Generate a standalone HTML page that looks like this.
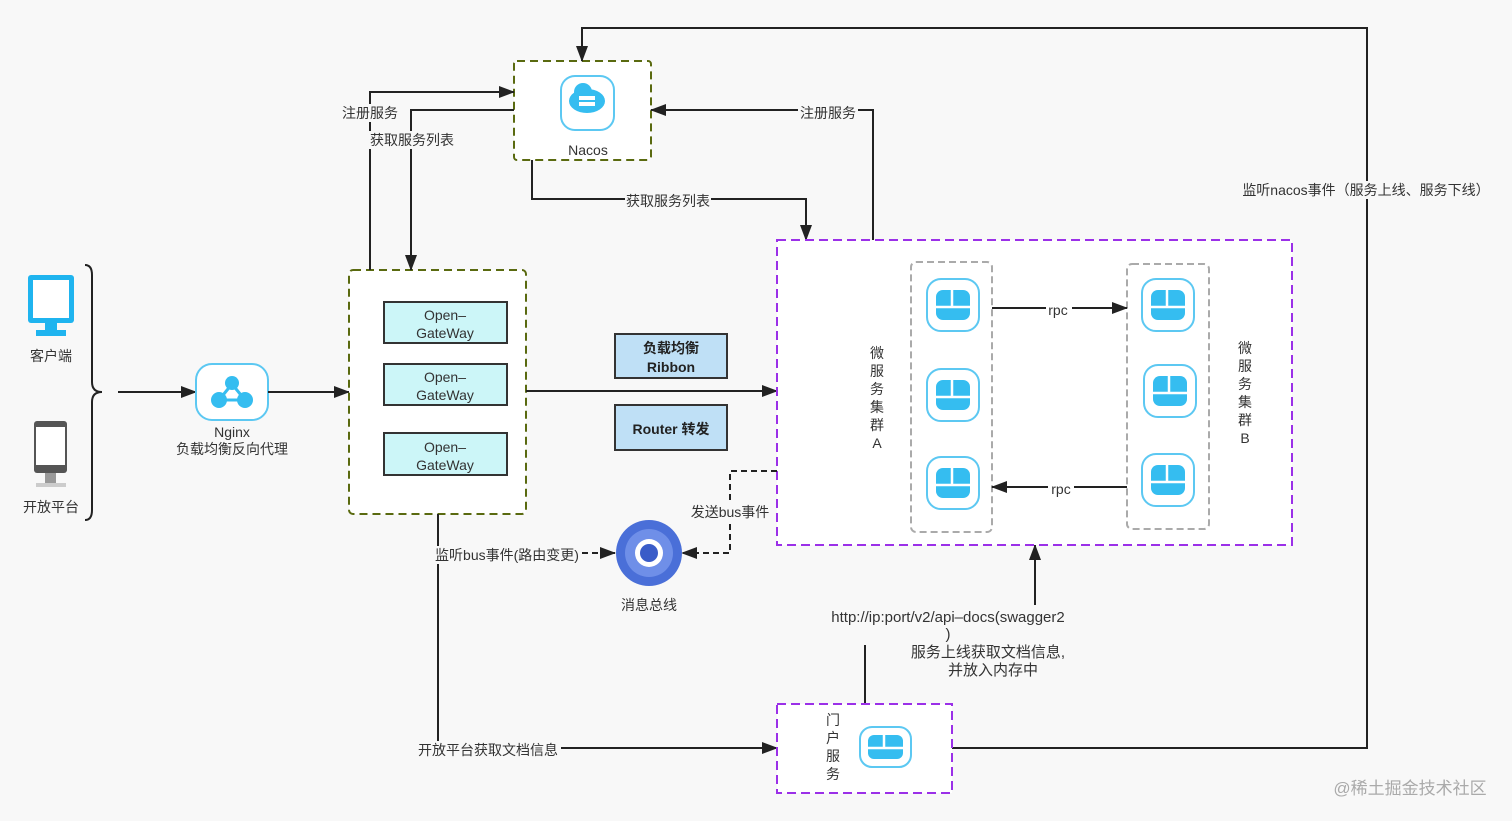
<!DOCTYPE html>
<html><head><meta charset="utf-8"><style>
html,body{margin:0;padding:0;background:#f8f8f8;}
svg{display:block;font-family:"Liberation Sans","Noto Sans CJK SC",sans-serif;}
</style></head><body>
<svg width="1512" height="821" viewBox="0 0 1512 821" xmlns="http://www.w3.org/2000/svg">
<defs>
<marker id="b" markerWidth="16" markerHeight="12" refX="15" refY="6" orient="auto" markerUnits="userSpaceOnUse"><path d="M0,0 L16,6 L0,12 Z" fill="#222"/></marker>
<g id="svc"><rect x="-26" y="-26" width="52" height="52" rx="14" fill="#fff" stroke="#5cc8f2" stroke-width="2"/><rect x="-17" y="-15" width="34" height="30" rx="7" fill="#35bdf0"/><line x1="-17" y1="2" x2="17" y2="2" stroke="#fff" stroke-width="2.5"/><line x1="-1" y1="-15" x2="-1" y2="2" stroke="#fff" stroke-width="2.5"/></g>
</defs>
<rect width="1512" height="821" fill="#f8f8f8"/>

<rect x="28" y="275" width="46" height="48" rx="3" fill="#1fb4ef"/>
<rect x="33" y="280" width="36" height="38" fill="#fff"/>
<rect x="45" y="323" width="12" height="7" fill="#1fb4ef"/>
<rect x="36" y="330" width="30" height="6" fill="#1fb4ef"/>
<text x="51" y="361" font-size="14" text-anchor="middle" fill="#333">客户端</text>
<rect x="34" y="421" width="33" height="52" rx="3" fill="#555"/>
<rect x="36" y="427" width="29" height="38" fill="#fff"/>
<rect x="45" y="473" width="11" height="10" fill="#999"/>
<rect x="36" y="483" width="30" height="4" fill="#ccc"/>
<text x="51" y="512" font-size="14" text-anchor="middle" fill="#333">开放平台</text>
<path d="M85,265 Q92,265 92,275 L92,382 Q92,392 102,392 Q92,392 92,402 L92,510 Q92,520 85,520" fill="none" stroke="#222" stroke-width="2"/>
<line x1="118" y1="392" x2="196" y2="392" stroke="#222" stroke-width="2" marker-end="url(#b)"/>

<rect x="196" y="364" width="72" height="56" rx="16" fill="#fff" stroke="#5cc8f2" stroke-width="2"/>
<line x1="232" y1="384" x2="219" y2="400" stroke="#35bdf0" stroke-width="3"/><line x1="232" y1="384" x2="245" y2="400" stroke="#35bdf0" stroke-width="3"/><line x1="219" y1="400" x2="245" y2="400" stroke="#35bdf0" stroke-width="3"/>
<circle cx="232" cy="383" r="7" fill="#35bdf0"/><circle cx="219" cy="400" r="8" fill="#35bdf0"/><circle cx="245" cy="400" r="8" fill="#35bdf0"/>
<text x="232" y="437" font-size="14" text-anchor="middle" fill="#333">Nginx</text>
<text x="232" y="454" font-size="14" text-anchor="middle" fill="#333">负载均衡反向代理</text>
<line x1="268" y1="392" x2="349" y2="392" stroke="#222" stroke-width="2" marker-end="url(#b)"/>

<rect x="349" y="270" width="177" height="244" rx="4" fill="#fff" stroke="#5a6a10" stroke-width="2" stroke-dasharray="8,5"/>
<g font-size="14" text-anchor="middle" fill="#333">
<rect x="384" y="302" width="123" height="41" fill="#ccf6f8" stroke="#333" stroke-width="2"/><text x="445" y="320">Open–</text><text x="445" y="338">GateWay</text>
<rect x="384" y="364" width="123" height="41" fill="#ccf6f8" stroke="#333" stroke-width="2"/><text x="445" y="382">Open–</text><text x="445" y="400">GateWay</text>
<rect x="384" y="433" width="123" height="42" fill="#ccf6f8" stroke="#333" stroke-width="2"/><text x="445" y="452">Open–</text><text x="445" y="470">GateWay</text>
</g>
<line x1="526" y1="391" x2="777" y2="391" stroke="#222" stroke-width="2" marker-end="url(#b)"/>
<rect x="615" y="334" width="112" height="44" fill="#bfe0f6" stroke="#333" stroke-width="2"/>
<text x="671" y="353" font-size="14" font-weight="bold" text-anchor="middle" fill="#222">负载均衡</text>
<text x="671" y="372" font-size="14" font-weight="bold" text-anchor="middle" fill="#222">Ribbon</text>
<rect x="615" y="405" width="112" height="45" fill="#bfe0f6" stroke="#333" stroke-width="2"/>
<text x="671" y="434" font-size="14" font-weight="bold" text-anchor="middle" fill="#222">Router 转发</text>

<rect x="514" y="61" width="137" height="99" rx="3" fill="#fff" stroke="#5a6a10" stroke-width="2" stroke-dasharray="8,5"/>
<rect x="561" y="76" width="53" height="54" rx="14" fill="#fff" stroke="#5cc8f2" stroke-width="2"/>
<ellipse cx="587" cy="101" rx="18" ry="12" fill="#35bdf0"/><circle cx="583" cy="92" r="9" fill="#35bdf0"/>
<rect x="579" y="96" width="16" height="4" fill="#fff"/><rect x="579" y="102" width="16" height="4" fill="#fff"/>
<text x="588" y="155" font-size="14" text-anchor="middle" fill="#333">Nacos</text>

<g fill="none" stroke="#222" stroke-width="2">
<polyline points="370,270 370,92 514,92" marker-end="url(#b)"/>
<polyline points="514,110 411,110 411,270" marker-end="url(#b)"/>
<polyline points="873,240 873,110 651,110" marker-end="url(#b)"/>
<polyline points="532,160 532,199 806,199 806,240" marker-end="url(#b)"/>
<polyline points="952,748 1367,748 1367,28 582,28 582,61" marker-end="url(#b)"/>
<polyline points="438,514 438,748 777,748" marker-end="url(#b)"/>
<polyline points="865,704 865,645"/>
<line x1="1035" y1="605" x2="1035" y2="545" marker-end="url(#b)"/>
</g>
<g font-size="14" fill="#333" text-anchor="middle">
<rect x="340" y="104" width="60" height="18" fill="#f8f8f8"/><text x="370" y="118">注册服务</text>
<rect x="369" y="131" width="86" height="18" fill="#f8f8f8"/><text x="412" y="145">获取服务列表</text>
<rect x="798" y="104" width="60" height="18" fill="#f8f8f8"/><text x="828" y="118">注册服务</text>
<rect x="625" y="192" width="86" height="18" fill="#f8f8f8"/><text x="668" y="206">获取服务列表</text>
<rect x="1238" y="181" width="254" height="18" fill="#f8f8f8"/><text x="1366" y="195">监听nacos事件（服务上线、服务下线）</text>
<rect x="416" y="741" width="145" height="18" fill="#f8f8f8"/><text x="488" y="755">开放平台获取文档信息</text>
</g>

<rect x="777" y="240" width="515" height="305" fill="#fff" stroke="#9b30e8" stroke-width="2" stroke-dasharray="9,5"/>
<rect x="911" y="262" width="81" height="270" rx="5" fill="none" stroke="#aaa" stroke-width="2" stroke-dasharray="7,4"/>
<rect x="1127" y="264" width="82" height="265" rx="5" fill="none" stroke="#aaa" stroke-width="2" stroke-dasharray="7,4"/>
<use href="#svc" x="953" y="305"/><use href="#svc" x="953" y="395"/><use href="#svc" x="953" y="483"/>
<use href="#svc" x="1168" y="305"/><use href="#svc" x="1170" y="391"/><use href="#svc" x="1168" y="480"/>
<g font-size="14" fill="#333" text-anchor="middle">
<text x="877" y="358">微</text><text x="877" y="376">服</text><text x="877" y="394">务</text><text x="877" y="412">集</text><text x="877" y="430">群</text><text x="877" y="448">A</text>
<text x="1245" y="353">微</text><text x="1245" y="371">服</text><text x="1245" y="389">务</text><text x="1245" y="407">集</text><text x="1245" y="425">群</text><text x="1245" y="443">B</text>
</g>
<line x1="992" y1="308" x2="1127" y2="308" stroke="#222" stroke-width="2" marker-end="url(#b)"/>
<line x1="1127" y1="487" x2="992" y2="487" stroke="#222" stroke-width="2" marker-end="url(#b)"/>
<rect x="1046" y="302" width="26" height="14" fill="#fff"/><text x="1058" y="315" font-size="14" text-anchor="middle" fill="#333">rpc</text>
<rect x="1048" y="481" width="26" height="14" fill="#fff"/><text x="1061" y="494" font-size="14" text-anchor="middle" fill="#333">rpc</text>

<polyline points="777,471 730,471 730,553 682,553" fill="none" stroke="#222" stroke-width="2" stroke-dasharray="6,4" marker-end="url(#b)"/>
<rect x="688" y="503" width="84" height="18" fill="#f8f8f8"/><text x="730" y="517" font-size="14" text-anchor="middle" fill="#333">发送bus事件</text>
<circle cx="649" cy="553" r="33" fill="#4a6fd8"/>
<circle cx="649" cy="553" r="24" fill="#6f8fe8"/>
<circle cx="649" cy="553" r="14" fill="#fff"/>
<circle cx="649" cy="553" r="9" fill="#3a5cc8"/>
<text x="649" y="610" font-size="14" text-anchor="middle" fill="#333">消息总线</text>
<line x1="582" y1="553" x2="615" y2="553" stroke="#222" stroke-width="2" stroke-dasharray="6,4" marker-end="url(#b)"/>
<rect x="432" y="546" width="150" height="18" fill="#f8f8f8"/><text x="507" y="560" font-size="14" text-anchor="middle" fill="#333">监听bus事件(路由变更)</text>

<rect x="777" y="704" width="175" height="89" fill="#fff" stroke="#9b30e8" stroke-width="2" stroke-dasharray="9,5"/>
<g font-size="14" fill="#333" text-anchor="middle"><text x="833" y="725">门</text><text x="833" y="743">户</text><text x="833" y="761">服</text><text x="833" y="779">务</text></g>
<rect x="860" y="727" width="51" height="40" rx="12" fill="#fff" stroke="#5cc8f2" stroke-width="2"/>
<rect x="868" y="735" width="35" height="24" rx="6" fill="#35bdf0"/><line x1="868" y1="748" x2="903" y2="748" stroke="#fff" stroke-width="2.5"/><line x1="884" y1="735" x2="884" y2="748" stroke="#fff" stroke-width="2.5"/>

<g font-size="15" fill="#333" text-anchor="middle">
<text x="948" y="622">http://ip:port/v2/api–docs(swagger2</text>
<text x="948" y="639">)</text>
<text x="988" y="657">服务上线获取文档信息,</text>
<text x="993" y="675">并放入内存中</text>
</g>
<text x="1410" y="794" font-size="17" text-anchor="middle" fill="#aaa">@稀土掘金技术社区</text>
</svg>
</body></html>
